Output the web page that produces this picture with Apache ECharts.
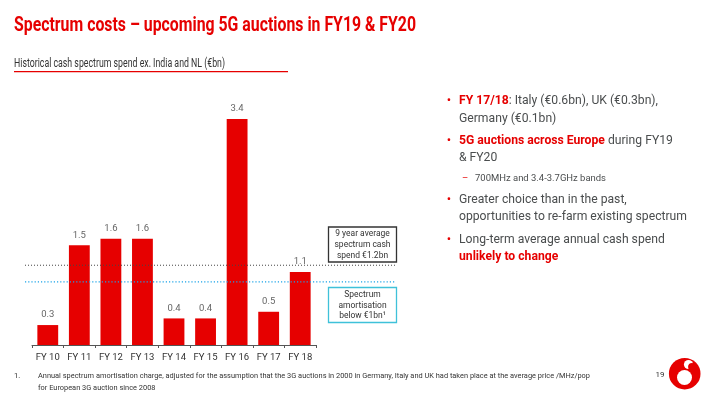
<!DOCTYPE html>
<html><head><meta charset="utf-8">
<script src="https://cdn.jsdelivr.net/npm/echarts@6/dist/echarts.min.js"></script>
<style>html,body{margin:0;padding:0;background:#fff}#c{width:720px;height:405px}</style>
</head><body><div id="c"></div>
<script>
const categories = ['FY 10','FY 11','FY 12','FY 13','FY 14','FY 15','FY 16','FY 17','FY 18'];
const spend = [0.3, 1.5, 1.6, 1.6, 0.4, 0.4, 3.4, 0.5, 1.1];
const averageSpend = 1.2;
const amortisation = 0.95;
const yMax = 3.4;

const RED = '#e60000', GREY = '#4a4d4e', FONT = 'Roboto';
const cv = document.createElement('canvas').getContext('2d');
function fit(text, font, target){ cv.font = font; return target / cv.measureText(text).width; }

const titleText = 'Spectrum costs \u2013 upcoming 5G auctions in FY19 & FY20';
const titleFont = 'bold 21px ' + FONT;
const subText = 'Historical cash spectrum spend ex. India and NL (\u20acbn)';
const subFont = '12px ' + FONT;
const bFont = '13px ' + FONT;
const bScale = fit('opportunities to re-farm existing spectrum', bFont, 228);
const sFont = '9.5px ' + FONT;
const sScale = fit('700MHz and 3.4-3.7GHz bands', sFont, 131);
const boxFont = '9.5px ' + FONT;
const boxScale = fit('spectrum cash', boxFont, 56);
const fnFont = '7.5px ' + FONT;
const fnLine1 = 'Annual spectrum amortisation charge, adjusted for the assumption that the 3G auctions in 2000 in Germany, Italy and UK had taken place at the average price /MHz/pop';
const fnScale = fit(fnLine1, fnFont, 552);

const rich = {
  g: {font: bFont, fill: GREY},
  r: {font: 'bold 13px ' + FONT, fill: RED}
};
function bt(x, y, text, scale){
  return {type:'text', x, y, scaleX: scale, style:{text, rich, font: bFont, fill: GREY, textVerticalAlign:'middle'}};
}
function bullet(y){ return {type:'text', x:449, y, style:{text:'\u2022', font:'13px '+FONT, fill:RED, textAlign:'center', textVerticalAlign:'middle'}}; }
function boxLine(y, text){ return {type:'text', x:362.5, y, z:20, scaleX: boxScale, style:{text, font: boxFont, fill:'#333', textAlign:'center', textVerticalAlign:'middle'}}; }

const chart = echarts.init(document.getElementById('c'), null, {renderer:'canvas'});
chart.setOption({
  animation:false,
  backgroundColor:'#fff',
  grid:[
    {left:32, right:404, top:119, bottom:60},
    {left:25, right:324, top:119, bottom:60}
  ],
  xAxis:[
    {type:'category', gridIndex:0, data:categories,
     axisLine:{lineStyle:{color:'#555', width:1}},
     axisTick:{show:true, length:3, lineStyle:{color:'#555'}},
     axisLabel:{color:'#333', fontSize:9.5, fontFamily:FONT, margin:8}},
    {type:'value', gridIndex:1, min:0, max:1, show:false}
  ],
  yAxis:[
    {type:'value', gridIndex:0, min:0, max:yMax, show:false, splitLine:{show:false}},
    {type:'value', gridIndex:1, min:0, max:yMax, show:false, splitLine:{show:false}}
  ],
  series:[
    {type:'bar', xAxisIndex:0, yAxisIndex:0, data:spend, barWidth:'66%',
     itemStyle:{color:RED},
     label:{show:true, position:'top', distance:5, color:'#666', fontSize:9.5, fontFamily:FONT, formatter:p=>p.value.toFixed(1)}},
    {type:'line', xAxisIndex:1, yAxisIndex:1, data:[[0,averageSpend],[1,averageSpend]], symbol:'none', silent:true,
     lineStyle:{color:'#444', width:1, type:[1,2]}, z:5},
    {type:'line', xAxisIndex:1, yAxisIndex:1, data:[[0,amortisation],[1,amortisation]], symbol:'none', silent:true,
     lineStyle:{color:'#1aa3e8', width:1.2, type:[1.2,2]}, z:5}
  ],
  graphic:[
    {type:'text', x:14, y:26, scaleX: fit(titleText, titleFont, 402), style:{text:titleText, font:titleFont, fill:RED, textVerticalAlign:'middle'}},
    {type:'text', x:14, y:64, scaleX: fit(subText, subFont, 211), style:{text:subText, font:subFont, fill:'#333', textVerticalAlign:'middle'}},
    {type:'rect', shape:{x:14, y:71, width:274, height:1.2}, style:{fill:RED}},
    // boxes
    {type:'rect', z:10, shape:{x:328.5, y:227, width:68, height:35}, style:{fill:'#fff', stroke:'#333', lineWidth:1.3}},
    boxLine(234, '9 year average'), boxLine(245, 'spectrum cash'), boxLine(255.8, 'spend \u20ac1.2bn'),
    {type:'rect', z:10, shape:{x:328.5, y:287.5, width:68, height:35}, style:{fill:'#fff', stroke:'#3fc1d9', lineWidth:1.3}},
    boxLine(294.3, 'Spectrum'), boxLine(305.2, 'amortisation'), boxLine(316, 'below \u20ac1bn\u00b9'),
    // bullets
    bullet(100.7), bt(459, 100.7, '{r|FY 17/18}{g|: Italy (\u20ac0.6bn), UK (\u20ac0.3bn),}', bScale),
    bt(459, 118.3, '{g|Germany (\u20ac0.1bn)}', bScale),
    bullet(141), bt(459, 141, '{r|5G auctions across Europe}{g| during FY19}', bScale),
    bt(459, 158, '{g|& FY20}', bScale),
    {type:'text', x:465, y:178.3, style:{text:'\u2013', font:sFont, fill:RED, textAlign:'center', textVerticalAlign:'middle'}},
    {type:'text', x:475, y:178.3, scaleX:sScale, style:{text:'700MHz and 3.4-3.7GHz bands', font:sFont, fill:GREY, textVerticalAlign:'middle'}},
    bullet(200), bt(459, 200, '{g|Greater choice than in the past,}', bScale),
    bt(459, 216.7, '{g|opportunities to re-farm existing spectrum}', bScale),
    bullet(239.3), bt(459, 239.3, '{g|Long-term average annual cash spend}', bScale),
    bt(459, 256.7, '{r|unlikely to change}', bScale),
    // footnote
    {type:'text', x:14, y:376, style:{text:'1.', font:fnFont, fill:'#333', textVerticalAlign:'middle'}},
    {type:'text', x:38, y:376, scaleX:fnScale, style:{text:fnLine1, font:fnFont, fill:'#333', textVerticalAlign:'middle'}},
    {type:'text', x:38, y:388, scaleX:fnScale, style:{text:'for European 3G auction since 2008', font:fnFont, fill:'#333', textVerticalAlign:'middle'}},
    {type:'text', x:660, y:375, style:{text:'19', font:'8px '+FONT, fill:'#333', textAlign:'center', textVerticalAlign:'middle'}},
    // logo
    {type:'circle', shape:{cx:684.7, cy:373.7, r:15.8}, style:{fill:RED}},
    {type:'circle', shape:{cx:684.5, cy:377.5, r:7.5}, style:{fill:'#fff'}},
    {type:'circle', shape:{cx:688.5, cy:364.5, r:4.6}, style:{fill:'#fff'}},
    {type:'circle', shape:{cx:692, cy:366.8, r:3.9}, style:{fill:RED}}
  ]
});
</script></body></html>
